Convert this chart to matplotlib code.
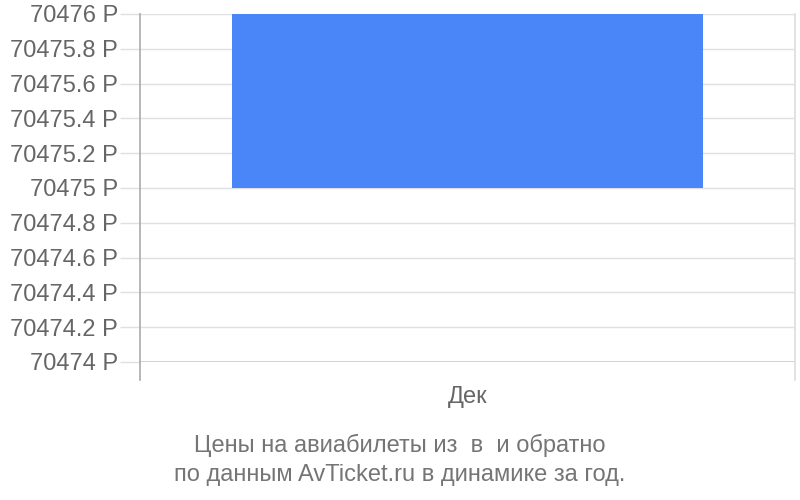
import matplotlib
matplotlib.use("Agg")
import matplotlib.pyplot as plt
import numpy as np

categories = ["Дек"]
values = [70475]
y_ticks = [70474, 70474.2, 70474.4, 70474.6, 70474.8, 70475, 70475.2, 70475.4, 70475.6, 70475.8, 70476]
y_min, y_max = 70474, 70476
title_lines = ["Цены на авиабилеты из  в  и обратно", "по данным AvTicket.ru в динамике за год."]

plt.rcParams['font.family'] = ['Liberation Sans', 'DejaVu Sans']

fig = plt.figure(figsize=(8, 5), dpi=100)
ax = fig.add_axes([140/800, 1-362/500, 655/800, 348/500])

x = np.arange(len(categories))
ax.bar(x, [y_max - v for v in values], bottom=values, width=0.72, color="#4a86f8", zorder=3)
ax.set_xlim(-0.5, len(categories) - 0.5)
ax.set_ylim(y_min, y_max)

def fmt(v):
    s = f"{v:.1f}".rstrip("0").rstrip(".")
    return s + " Р"

ax.set_yticks(y_ticks)
ax.set_yticklabels([fmt(v) for v in y_ticks], fontsize=17, color="#666666")
ax.tick_params(axis='y', length=14.4, color="#e0e0e0", width=1, pad=1.5)
ax.grid(axis='y', color="#e0e0e0", linewidth=1, zorder=0)
ax.set_xticks(x)
ax.set_xticklabels(categories, fontsize=17, color="#666666")
ax.tick_params(axis='x', length=0, pad=17)

for s in ax.spines.values():
    s.set_visible(False)

ax.plot([0, 0], [1, -18/348], transform=ax.transAxes, color="#aaaaaa", lw=1.2, clip_on=False, zorder=4)
ax.plot([1, 1], [1, -18/348], transform=ax.transAxes, color="#dddddd", lw=1.2, clip_on=False, zorder=4)
ax.axhline(y_min, color="#cccccc", lw=1.2, zorder=2)

fig.text(0.5, 1-445/500, title_lines[0], ha='center', va='center', fontsize=17, color="#757575")
fig.text(0.5, 1-475/500, title_lines[1], ha='center', va='center', fontsize=17, color="#757575")

fig.savefig("out.png", dpi=100)
